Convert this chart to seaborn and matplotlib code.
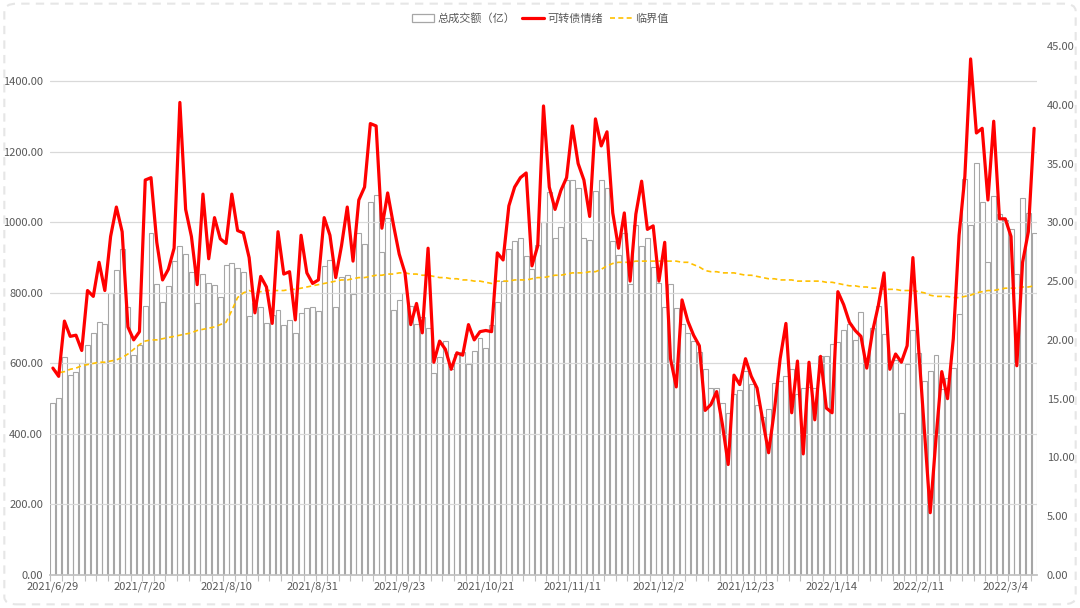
import numpy as np
import pandas as pd
import matplotlib
matplotlib.use('Agg')
import matplotlib.pyplot as plt
import seaborn as sns
from matplotlib.patches import Patch, FancyBboxPatch
from matplotlib.lines import Line2D
from matplotlib.ticker import FuncFormatter, FixedLocator

# ---- data ----
turnover = [
    487, 502, 619, 568, 575, 600, 653, 687, 717, 713,
    799, 866, 924, 759, 623, 651, 764, 971, 826, 775,
    819, 889, 932, 911, 860, 772, 854, 827, 823, 788,
    878, 885, 870, 860, 734, 771, 759, 714, 738, 752,
    710, 724, 687, 744, 757, 759, 749, 876, 892, 761,
    844, 850, 798, 971, 938, 1057, 1077, 915, 1011, 752,
    779, 801, 764, 713, 732, 700, 573, 617, 663, 583,
    627, 631, 597, 636, 673, 643, 710, 773, 835, 923,
    947, 955, 904, 868, 935, 1001, 1085, 956, 988, 1121,
    1121, 1097, 956, 950, 1089, 1121, 1098, 947, 908, 969,
    826, 992, 932, 955, 874, 828, 759, 825, 757, 713,
    685, 664, 633, 584, 529, 531, 487, 458, 514, 524,
    578, 543, 483, 447, 470, 545, 551, 563, 583, 512,
    530, 534, 529, 620, 622, 656, 660, 695, 713, 666,
    746, 615, 700, 762, 682, 602, 610, 460, 599, 695,
    629, 551, 578, 625, 526, 560, 587, 740, 1123, 992,
    1168, 1058, 888, 1075, 1024, 1007, 981, 853, 1070, 1027,
    970,
]

sentiment = [
    17.6, 16.9, 21.6, 20.3, 20.4, 19.1, 24.2, 23.7, 26.6, 24.2,
    28.8, 31.3, 29.2, 21.1, 20.0, 20.7, 33.6, 33.8, 28.3, 25.1,
    26.0, 27.8, 40.2, 31.1, 28.8, 24.7, 32.4, 26.9, 30.4, 28.6,
    28.2, 32.4, 29.3, 29.1, 27.0, 22.3, 25.4, 24.5, 21.4, 29.2,
    25.6, 25.8, 21.7, 28.9, 25.7, 24.8, 25.1, 30.4, 28.9, 25.3,
    28.0, 31.3, 26.7, 31.9, 33.0, 38.4, 38.2, 29.5, 32.5, 29.8,
    27.3, 25.7, 21.3, 23.1, 20.6, 27.8, 18.1, 19.9, 19.2, 17.5,
    18.9, 18.7, 21.3, 20.0, 20.7, 20.8, 20.7, 27.4, 26.8, 31.4,
    33.0, 33.8, 34.2, 26.3, 28.0, 39.9, 33.0, 31.1, 32.7, 33.8,
    38.2, 35.0, 33.6, 30.5, 38.8, 36.5, 37.7, 30.8, 27.8, 30.8,
    25.0, 30.7, 33.5, 29.4, 29.7, 25.0, 28.3, 18.4, 16.0, 23.4,
    21.6, 20.4, 19.5, 14.0, 14.5, 15.6, 12.8, 9.4, 17.0, 16.2,
    18.4, 16.9, 15.9, 13.1, 10.4, 14.0, 18.4, 21.4, 13.8, 18.2,
    10.3, 18.1, 13.2, 18.6, 14.2, 13.8, 24.1, 23.0, 21.5, 20.8,
    20.3, 17.6, 20.7, 22.9, 25.7, 17.5, 18.8, 18.1, 19.5, 27.0,
    19.2, 12.2, 5.3, 11.6, 17.3, 15.0, 20.1, 28.9, 33.9, 43.9,
    37.6, 38.0, 31.9, 38.6, 30.3, 30.3, 28.8, 17.8, 26.6, 29.2,
    38.0,
]

threshold = [
    17.5, 17.2, 17.3, 17.5, 17.6, 17.8, 17.9, 18.0, 18.1, 18.1,
    18.2, 18.3, 18.5, 18.8, 19.2, 19.6, 19.9, 20.0, 20.0, 20.1,
    20.2, 20.3, 20.4, 20.5, 20.6, 20.8, 20.9, 21.0, 21.1, 21.3,
    21.5, 22.5, 23.6, 24.0, 24.2, 24.0, 24.1, 24.2, 24.2, 24.2,
    24.2, 24.3, 24.3, 24.4, 24.5, 24.6, 24.7, 24.8, 24.9, 25.0,
    25.1, 25.1, 25.2, 25.3, 25.3, 25.4, 25.5, 25.5, 25.6, 25.6,
    25.7, 25.7, 25.6, 25.6, 25.5, 25.5, 25.4, 25.3, 25.3, 25.2,
    25.2, 25.1, 25.1, 25.0, 25.0, 24.9, 24.8, 25.0, 25.0, 25.0,
    25.1, 25.1, 25.1, 25.2, 25.3, 25.3, 25.4, 25.5, 25.5, 25.6,
    25.7, 25.7, 25.7, 25.8, 25.8, 26.0, 26.3, 26.5, 26.6, 26.6,
    26.6, 26.7, 26.7, 26.7, 26.7, 26.7, 26.7, 26.7, 26.7, 26.6,
    26.6, 26.4, 26.2, 25.9, 25.8, 25.8, 25.7, 25.7, 25.7, 25.6,
    25.5, 25.5, 25.4, 25.3, 25.2, 25.2, 25.1, 25.1, 25.1, 25.0,
    25.0, 25.0, 25.0, 25.0, 24.9, 24.9, 24.8, 24.7, 24.6, 24.6,
    24.5, 24.5, 24.4, 24.4, 24.3, 24.3, 24.3, 24.2, 24.2, 24.2,
    24.1, 24.0, 23.8, 23.7, 23.7, 23.7, 23.6, 23.6, 23.7, 23.8,
    24.0, 24.1, 24.2, 24.2, 24.3, 24.4, 24.4, 24.4, 24.5, 24.5,
    24.6,
]

tick_labels = ['2021/6/29', '2021/7/20', '2021/8/10', '2021/8/31', '2021/9/23',
               '2021/10/21', '2021/11/11', '2021/12/2', '2021/12/23', '2022/1/14',
               '2022/2/11', '2022/3/4']
label_step = 15
series_names = ['总成交额（亿）', '可转债情绪', '临界值']

# ---- style ----
sns.set_theme(style='white')
plt.rcParams['font.family'] = ['Noto Sans CJK SC', 'DejaVu Sans']
TXT = '#595959'
GRID = '#d9d9d9'

n = len(turnover)
df = pd.DataFrame({'idx': np.arange(n), 'turnover': turnover,
                   'sentiment': sentiment, 'threshold': threshold})

fig = plt.figure(figsize=(10.8, 6.08), dpi=100)
fig.patch.set_facecolor('white')
ax = fig.add_axes([50 / 1080, 1 - 575 / 608, (1037 - 50) / 1080, (575 - 46) / 608])

sns.barplot(data=df, x='idx', y='turnover', ax=ax, color='white',
            edgecolor='#a6a6a6', linewidth=0.8, width=0.86, saturation=1)
for p in ax.patches:
    p.set_facecolor('none')

ax2 = ax.twinx()
sns.lineplot(data=df, x='idx', y='threshold', ax=ax2, color='#ffc000',
             linewidth=1.2)
ax2.lines[-1].set_dashes([3, 2])
sns.lineplot(data=df, x='idx', y='sentiment', ax=ax2, color='#ff0000',
             linewidth=2.3)
ax2.lines[-1].set_solid_joinstyle('round')

# axes limits / ticks
ax.set_xlim(-0.5, n - 0.5)
ax2.set_xlim(-0.5, n - 0.5)
ax.set_ylim(0, 1500)
ax2.set_ylim(0, 45)

ax.set_yticks(np.arange(0, 1401, 200))
ax.yaxis.set_major_formatter(FuncFormatter(lambda v, p: f'{v:.2f}'))
ax2.set_yticks(np.arange(0, 46, 5))
ax2.yaxis.set_major_formatter(FuncFormatter(lambda v, p: f'{v:.2f}'))

ax.set_xticks(np.arange(0, n, label_step)[:len(tick_labels)])
ax.set_xticklabels(tick_labels)
ax.xaxis.set_minor_locator(FixedLocator(np.arange(-0.5, n, 2)))

ax.tick_params(axis='x', which='major', length=0, pad=5, labelsize=8, labelcolor=TXT)
ax.tick_params(axis='x', which='minor', length=4, width=0.8, color='#bfbfbf', bottom=True)
ax.tick_params(axis='y', length=0, pad=5, labelsize=8, labelcolor=TXT)
ax2.tick_params(axis='y', length=0, pad=7, labelsize=8, labelcolor=TXT)

ax.yaxis.grid(True, color=GRID, linewidth=0.9)
ax.xaxis.grid(False)
ax.set_axisbelow(False)
for s in ['top', 'right', 'left']:
    ax.spines[s].set_visible(False)
    ax2.spines[s].set_visible(False)
ax.spines['bottom'].set_color('#bfbfbf')
ax2.spines['bottom'].set_visible(False)
ax.set_xlabel('')
ax.set_ylabel('')
ax2.set_xlabel('')
ax2.set_ylabel('')
ax.set_facecolor('none')
ax2.set_facecolor('none')

# legend
handles = [Patch(facecolor='white', edgecolor='#a6a6a6', linewidth=0.9),
           Line2D([], [], color='#ff0000', linewidth=2.3),
           Line2D([], [], color='#ffc000', linewidth=1.2, dashes=[3, 2])]
fig.legend(handles, series_names, loc='upper center', bbox_to_anchor=(0.5, 0.995),
           ncol=3, frameon=False, fontsize=8, handlelength=2.0, handleheight=0.8,
           columnspacing=0.6, handletextpad=0.3, labelcolor=TXT)

# outer rounded border
fig.patches.append(FancyBboxPatch((0.004, 0.006), 0.992, 0.988,
                                  boxstyle='round,pad=0,rounding_size=0.012',
                                  transform=fig.transFigure, fill=False,
                                  edgecolor='#e6e6e6', linewidth=1.5,
                                  linestyle=(0, (4, 3))))

fig.savefig('out.png', dpi=100)
